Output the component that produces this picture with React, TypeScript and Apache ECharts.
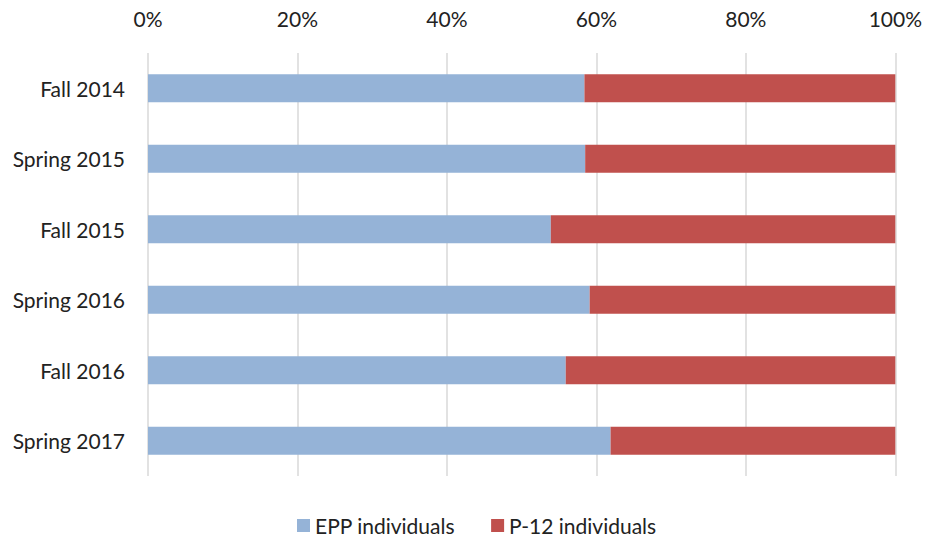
import React, { useEffect, useRef } from "react";
import * as echarts from "echarts";

const categories = ["Fall 2014", "Spring 2015", "Fall 2015", "Spring 2016", "Fall 2016", "Spring 2017"];
const eppValues = [58.4, 58.5, 53.9, 59.1, 55.9, 61.9];
const p12Values = [41.6, 41.5, 46.1, 40.9, 44.1, 38.1];
const seriesNames = ["EPP individuals", "P-12 individuals"];

const FONT = "Lato, 'Open Sans', sans-serif";

export default function App() {
  const ref = useRef<HTMLDivElement>(null);
  useEffect(() => {
    if (!ref.current) return;
    const chart = echarts.init(ref.current, undefined, { renderer: "svg" });
    chart.setOption({
      animation: false,
      textStyle: { fontFamily: FONT },
      grid: { left: 148, right: 27, top: 53, bottom: 61, containLabel: false },
      legend: {
        bottom: -4,
        left: 292,
        itemWidth: 13,
        itemHeight: 13,
        itemGap: 36,
        icon: "rect",
        textStyle: { fontSize: 21, color: "#222", fontFamily: FONT },
        data: seriesNames,
      },
      xAxis: {
        type: "value",
        position: "top",
        min: 0,
        max: 100,
        interval: 20,
        axisLine: { show: false },
        axisTick: { show: false },
        axisLabel: { formatter: "{value}%", fontSize: 21, color: "#222", margin: 24, fontFamily: FONT },
        splitLine: { show: true, lineStyle: { color: "#D9D9D9", width: 1.5 } },
      },
      yAxis: {
        type: "category",
        inverse: true,
        data: categories,
        axisLine: { show: false },
        axisTick: { show: false },
        axisLabel: { fontSize: 21, color: "#222", margin: 23, fontFamily: FONT },
      },
      series: [
        {
          name: seriesNames[0],
          type: "bar",
          stack: "total",
          data: eppValues,
          barWidth: "40%",
          itemStyle: { color: "#95B3D7" },
        },
        {
          name: seriesNames[1],
          type: "bar",
          stack: "total",
          data: p12Values,
          barWidth: "40%",
          itemStyle: { color: "#C0504D" },
        },
      ],
    });
    return () => chart.dispose();
  }, []);
  return (
    <div
      ref={ref}
      style={{ position: "fixed", left: 0, top: 0, width: 925, height: 537, background: "#fff" }}
    />
  );
}
